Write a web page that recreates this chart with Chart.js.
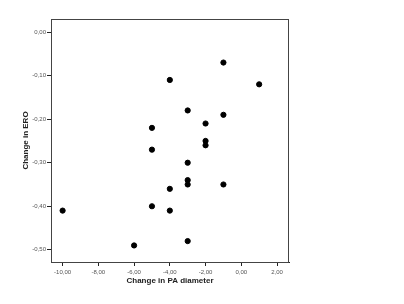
<!DOCTYPE html>
<html>
<head>
<meta charset="utf-8">
<script src="https://cdn.jsdelivr.net/npm/chart.js@4"></script>
<style>
  html, body { margin: 0; padding: 0; background: #fff; }
  #wrap { width: 404px; height: 304px; }
</style>
</head>
<body>
<div id="wrap"><canvas id="plot" width="404" height="304"></canvas></div>
<script>
// change in PA diameter (x) vs change in ERO (y)
const paChange = [-1, -4, 1, -3, -1, -2, -5, -2, -2, -5, -3, -3, -3, -1, -4, -5, -10, -4, -3, -6];
const eroChange = [-0.07, -0.11, -0.12, -0.18, -0.19, -0.21, -0.22, -0.25, -0.26, -0.27,
                   -0.30, -0.34, -0.35, -0.35, -0.36, -0.40, -0.41, -0.41, -0.48, -0.49];
const xTicks = [-10, -8, -6, -4, -2, 0, 2];
const yTicks = [0, -0.1, -0.2, -0.3, -0.4, -0.5];

/* SPSS style number: comma decimal */
const fmt = (v) => v.toFixed(2).replace('.', ',');

// draws the box around the plot area
const frame = {
    id: 'frame',
    afterDraw(chart) {
        const { ctx, chartArea: a } = chart;
        ctx.save();
        ctx.strokeStyle = '#444';
        ctx.lineWidth = 1;
        ctx.strokeRect(a.left + 0.5, a.top + 0.5, a.right - a.left - 1, a.bottom - a.top);
        ctx.restore();
    }
};

const points = paChange.map((x, i) => ({ x: x, y: eroChange[i] }));

new Chart(document.getElementById('plot'), {
    type: 'scatter',
    data: {
        datasets: [{
            data: points,
            backgroundColor: '#000',
            borderColor: '#000',
            pointRadius: 2.6,
            pointHoverRadius: 2.6
        }]
    },
    options: {
        responsive: false,
        animation: false,
        plugins: { legend: { display: false }, tooltip: { enabled: false } },
        layout: { padding: { left: 21, right: 115, top: 19, bottom: 18 } },
        scales: {
            x: {
                type: 'linear',
                min: -10.65,
                max: 2.67,
                afterBuildTicks: (s) => { s.ticks = xTicks.map(v => ({ value: v })); },
                afterFit: (s) => { s.height = 24; },
                grid: { drawOnChartArea: false, drawTicks: true, tickLength: 4, tickColor: '#222' },
                border: { display: true, color: '#222', width: 1 },
                ticks: {
                    callback: (v) => fmt(v),
                    font: { family: 'Liberation Sans', size: 6 },
                    color: '#555',
                    padding: 3,
                    maxRotation: 0
                },
                title: {
                    display: true,
                    text: 'Change in PA diameter',
                    font: { family: 'Liberation Sans', size: 8, weight: 'bold' },
                    color: '#222',
                    padding: { top: 1, bottom: 0 }
                }
            },
            y: {
                type: 'linear',
                min: -0.528,
                max: 0.03,
                afterBuildTicks: (s) => { s.ticks = yTicks.map(v => ({ value: v })); },
                afterFit: (s) => { s.width = 30; },
                grid: { drawOnChartArea: false, drawTicks: true, tickLength: 4, tickColor: '#222' },
                border: { display: true, color: '#222', width: 1 },
                ticks: {
                    callback: (v) => fmt(v),
                    font: { family: 'Liberation Sans', size: 6 },
                    color: '#555',
                    padding: 1
                },
                title: {
                    display: true,
                    text: 'Change in ERO',
                    font: { family: 'Liberation Sans', size: 8, weight: 'bold' },
                    color: '#222',
                    padding: { top: 0, bottom: 0 }
                }
            }
        }
    },
    plugins: [frame]
});
</script>
</body>
</html>
